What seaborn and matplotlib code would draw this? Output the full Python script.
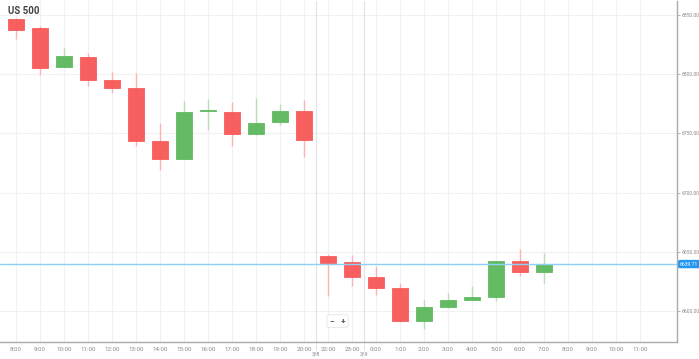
import numpy as np
import pandas as pd
import matplotlib
matplotlib.use("Agg")
import matplotlib.pyplot as plt
import seaborn as sns

# hourly candles, US 500
hours = ['8:00', '9:00', '10:00', '11:00', '12:00', '13:00', '14:00', '15:00',
         '16:00', '17:00', '18:00', '19:00', '20:00', '22:00', '23:00', '0:00',
         '1:00', '2:00', '3:00', '4:00', '5:00', '6:00', '7:00']
opens = [6846.6, 6839.1, 6806.2, 6814.6, 6795.3, 6788.6, 6744.0, 6728.0,
         6768.6, 6768.4, 6749.8, 6759.9, 6769.2, 6646.3, 6641.2, 6628.6,
         6619.4, 6591.6, 6603.4, 6609.3, 6611.8, 6642.1, 6632.8]
highs = [6847.5, 6840.7, 6822.2, 6818.0, 6802.0, 6801.0, 6759.0, 6777.6,
         6779.0, 6776.8, 6780.0, 6775.0, 6778.5, 6648.0, 6647.0, 6637.9,
         6623.6, 6609.3, 6615.0, 6621.0, 6642.5, 6652.0, 6648.8]
lows = [6829.8, 6799.5, 6806.0, 6790.2, 6784.3, 6739.0, 6719.5, 6728.0,
        6753.0, 6739.7, 6749.0, 6757.4, 6730.5, 6612.6, 6621.0, 6613.5,
        6591.0, 6584.8, 6603.0, 6609.0, 6608.4, 6629.5, 6624.0]
closes = [6837.4, 6805.4, 6815.5, 6795.3, 6788.6, 6744.0, 6728.0, 6768.4,
          6769.0, 6749.8, 6759.0, 6769.2, 6744.8, 6640.4, 6628.6, 6619.4,
          6591.6, 6603.4, 6609.3, 6611.8, 6642.1, 6632.8, 6639.7]
axis_hours = hours + ['8:00', '9:00', '10:00', '11:00']
y_ticks = [6600, 6650, 6700, 6750, 6800, 6850]
last_price = 6639.71
day_breaks = [(12.5, '3/8'), (14.5, '3/9')]

df = pd.DataFrame({'hour': hours, 'open': opens, 'high': highs,
                   'low': lows, 'close': closes})
df['pos'] = np.arange(len(df))
df['up'] = df['close'] >= df['open']

sns.set_theme(style="white")
plt.rcParams['font.family'] = ['Roboto', 'DejaVu Sans']

RED = '#f85757'
RED_WICK = '#fbb4b4'
GREEN = '#5cb85c'
GREEN_WICK = '#b5dfb5'

fig = plt.figure(figsize=(6.99, 3.59), dpi=100)
ax = fig.add_axes([0.0, 17 / 359, 677 / 699, 1 - 17 / 359 - 1 / 359])

# grid
for i in range(len(axis_hours)):
    ax.axvline(i, color='#f1f1f1', lw=0.8, zorder=0)
for yt in y_ticks:
    ax.axhline(yt, color='#f1f1f1', lw=0.8, zorder=0)
for xb, _ in day_breaks:
    ax.axvline(xb, color='#e4e4e4', lw=0.9, zorder=0)

# wicks
for up, wc in [(True, GREEN_WICK), (False, RED_WICK)]:
    sub = df[df['up'] == up]
    ax.vlines(sub['pos'], sub['low'], sub['high'], color=wc, lw=1.0, zorder=1)

# bodies
for up, bc in [(True, GREEN), (False, RED)]:
    sub = df[df['up'] == up]
    bottom = sub[['open', 'close']].min(axis=1)
    height = (sub['close'] - sub['open']).abs().clip(lower=0.8)
    ax.bar(sub['pos'], height, bottom=bottom, width=0.66, color=bc,
           edgecolor=bc, linewidth=0.6, alpha=0.95, zorder=2)

# last price line
ax.axhline(last_price, color='#8fd0f5', lw=1.0, zorder=3)

ax.set_xlim(-0.667, 27.54)
ax.set_ylim(6573.9, 6861.8)

ax.yaxis.tick_right()
ax.set_yticks(y_ticks)
ax.set_yticklabels([f'{v:.2f}' for v in y_ticks], fontsize=3.6, color='#888888')
ax.set_xticks(range(len(axis_hours)))
ax.set_xticklabels(axis_hours, fontsize=4.4, color='#888888')
ax.tick_params(axis='both', length=2, width=0.6, color='#aaaaaa', pad=1.5)

for s in ['top', 'left']:
    ax.spines[s].set_visible(False)
for s in ['right', 'bottom']:
    ax.spines[s].set_color('#aaaaaa')
    ax.spines[s].set_linewidth(1.0)

# day labels under the axis
for xb, lab in day_breaks:
    ax.annotate(lab, xy=(xb, 0), xycoords=('data', 'axes fraction'),
                xytext=(0, -8.5), textcoords='offset points', ha='center',
                va='center', fontsize=4.0, color='#888888', annotation_clip=False)
    ax.plot([xb, xb], [0, -0.025], transform=ax.get_xaxis_transform(),
            color='#aaaaaa', lw=0.6, ls=':', clip_on=False)

# price tag on the axis
ax.annotate(f'{last_price:.2f}', xy=(1, last_price),
            xycoords=('axes fraction', 'data'), xytext=(2, 0),
            textcoords='offset points', ha='left', va='center', fontsize=3.6,
            color='white', annotation_clip=False,
            bbox=dict(boxstyle='round,pad=0.2', fc='#2196f3', ec='#2196f3'))

# title
ax.text(0.012, 0.985, 'US 500', transform=ax.transAxes, ha='left', va='top',
        fontsize=7, fontweight='bold', color='#444444')

# zoom buttons
ax.text(13.4, 6591.5, '\u2212   +', ha='center', va='center', fontsize=6,
        fontweight='bold', color='#555555', zorder=4,
        bbox=dict(boxstyle='round,pad=0.35', fc='white', ec='#e6e6e6', lw=0.6))

fig.savefig('out.png', dpi=100)
